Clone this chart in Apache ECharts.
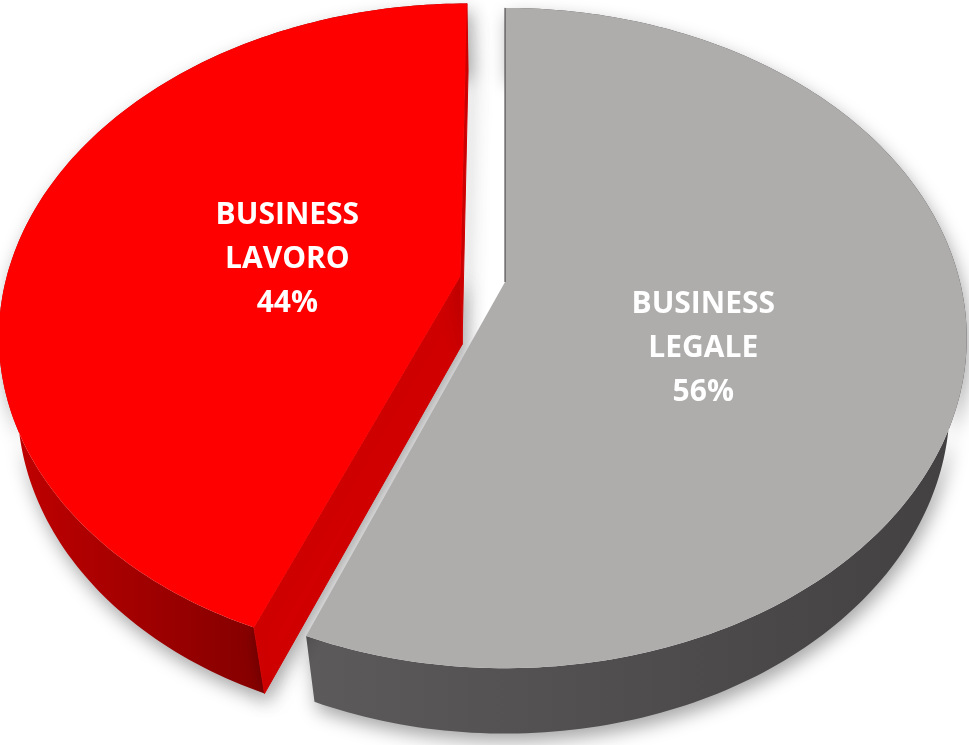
<!DOCTYPE html>
<html>
<head>
<meta charset="utf-8">
<script src="https://cdn.jsdelivr.net/npm/echarts@6/dist/echarts.min.js"></script>
<style>
html, body { margin: 0; padding: 0; background: #fff; }
#chart { width: 969px; height: 745px; }
</style>
</head>
<body>
<div id="chart"></div>
<script>
var categories = ['BUSINESS LEGALE', 'BUSINESS LAVORO'];
var values = [56, 44];
var explode = [0, 0.1];

var topColors = ['#afacac', '#ff0000'];
var wallStops = [
  [[0, '#5c5a5a'], [1, '#424041']],
  [[0, '#c40000'], [0.5, '#8a0000'], [1, '#8a0000']]
];
var faceColors = ['#3c3a3b', '#d20000'];
var labelNudge = [[8, 41], [11, 8]];

// fake 3d camera: tilted disc seen in perspective
var cx = 505, cy = 282, F = 1902, D = 4.18, H = 0.22;
var tilt = 44.8 * Math.PI / 180;
var sp = Math.sin(tilt), cp = Math.cos(tilt);
var cam = [0, -D * cp, D * sp];

function proj (x, y, z) {
  var d = D + y * cp - z * sp;
  return [cx + F * x / d, cy - F * (y * sp + z * cp) / d];
}

// is the radial cut face at angle a (normal direction na) turned to the camera
function faceVisible (ox, oy, a, na) {
  var px = ox + 0.5 * Math.cos(a), py = oy + 0.5 * Math.sin(a);
  return (cam[0] - px) * Math.cos(na) + (cam[1] - py) * Math.sin(na) > 0;
}

var total = values.reduce(function (a, b) { return a + b }, 0);

function renderItem (params, api) {
  var i = params.dataIndex;
  var v = api.value(0);
  var before = 0;
  for (var k = 0; k < i; k++) before += values[k];
  // clockwise from 12 o'clock
  var a0 = (90 - before / total * 360) * Math.PI / 180;
  var a1 = a0 - v / total * 2 * Math.PI;
  var mid = (a0 + a1) / 2;
  var ox = explode[i] * Math.cos(mid);
  var oy = explode[i] * Math.sin(mid);

  var n = Math.ceil(Math.abs(a1 - a0) / (Math.PI / 180));
  var topArc = [], botArc = [];
  for (var j = 0; j <= n; j++) {
    var a = a0 + (a1 - a0) * j / n;
    topArc.push(proj(ox + Math.cos(a), oy + Math.sin(a), 0));
    botArc.push(proj(ox + Math.cos(a), oy + Math.sin(a), -H));
  }
  var cTop = proj(ox, oy, 0);
  var cBot = proj(ox, oy, -H);

  var shadow = {
    shadowBlur: 18,
    shadowColor: 'rgba(0,0,0,0.35)',
    shadowOffsetX: 3,
    shadowOffsetY: 8
  };

  var children = [{
    type: 'polygon',
    z2: 1,
    shape: { points: topArc.concat(botArc.slice().reverse()) },
    style: Object.assign({
      fill: {
        type: 'linear', x: 0, y: 0, x2: 1, y2: 0,
        colorStops: wallStops[i].map(function (s) { return { offset: s[0], color: s[1] } })
      }
    }, shadow)
  }];

  if (faceVisible(ox, oy, a0, a0 + Math.PI / 2)) {
    children.push({
      type: 'polygon',
      z2: 2,
      shape: { points: [cTop, topArc[0], botArc[0], cBot] },
      style: Object.assign({ fill: faceColors[i], stroke: faceColors[i], lineWidth: 1 }, shadow)
    });
  }
  if (faceVisible(ox, oy, a1, a1 - Math.PI / 2)) {
    children.push({
      type: 'polygon',
      z2: 2,
      shape: { points: [cTop, topArc[n], botArc[n], cBot] },
      style: Object.assign({ fill: faceColors[i], stroke: faceColors[i], lineWidth: 1 }, shadow)
    });
  } else if (i === 0) {
    // edge-on face at 12 o'clock shows as a thin dark line
  }

  children.push({
    type: 'polygon',
    z2: 10,
    shape: { points: [cTop].concat(topArc) },
    style: { fill: topColors[i] }
  });

  if (Math.abs(Math.cos(a0)) < 1e-6) {
    children.push({
      type: 'line',
      z2: 11,
      shape: { x1: cTop[0], y1: cTop[1], x2: topArc[0][0], y2: topArc[0][1] },
      style: { stroke: faceColors[i], lineWidth: 1 }
    });
  }

  var lp = proj(ox + 0.42 * Math.cos(mid), oy + 0.42 * Math.sin(mid), 0);
  var pct = Math.round(v / total * 100);
  children.push({
    type: 'text',
    z2: 20,
    style: {
      text: categories[i].replace(' ', '\n') + '\n' + pct + '%',
      x: lp[0] + labelNudge[i][0],
      y: lp[1] + labelNudge[i][1],
      fill: '#fff',
      fontSize: 30,
      fontWeight: 'bold',
      fontFamily: 'Open Sans',
      align: 'center',
      verticalAlign: 'middle',
      lineHeight: 44
    }
  });

  return { type: 'group', children: children };
}

var myChart = echarts.init(document.getElementById('chart'));
var option = {
  backgroundColor: '#fff',
  animation: false,
  series: [
    {
      type: 'custom',
      coordinateSystem: 'none',
      silent: true,
      renderItem: renderItem,
      data: values.map(function (v, i) { return { name: categories[i], value: [v] } })
    }
  ]
};
myChart.setOption(option);
</script>
</body>
</html>
